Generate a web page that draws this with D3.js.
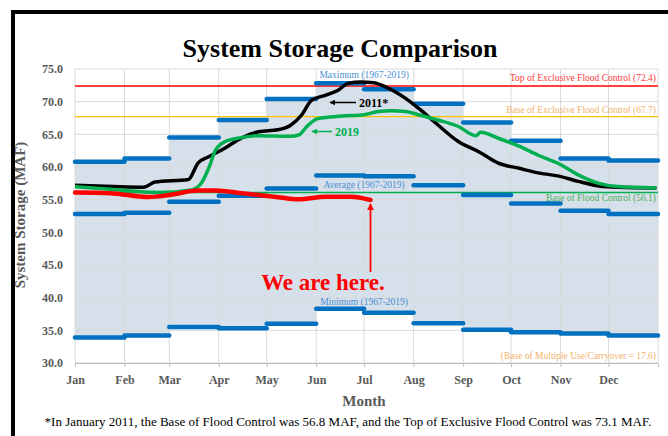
<!DOCTYPE html>
<html>
<head>
<meta charset="utf-8">
<script src="https://cdn.jsdelivr.net/npm/d3@7"></script>
<style>
  body { margin: 0; background: #fff; }
  svg { display: block; font-family: "Liberation Serif", "Times New Roman", serif; }
</style>
</head>
<body>
<svg width="668" height="436"></svg>
<script>
// monthly envelope 1967-2019 (MAF)
const months = ["Jan", "Feb", "Mar", "Apr", "May", "Jun", "Jul", "Aug", "Sep", "Oct", "Nov", "Dec"];
const maxStorage = [60.8, 61.3, 64.5, 67.2, 70.4, 72.8, 71.9, 69.7, 66.8, 64.0, 61.3, 61.0];
const avgStorage = [52.8, 53.0, 54.7, 55.6, 56.7, 58.7, 58.6, 57.2, 55.7, 54.4, 53.3, 52.8];
const minStorage = [33.9, 34.2, 35.5, 35.3, 36.0, 38.3, 37.7, 36.1, 35.1, 34.7, 34.5, 34.2];

// daily traces (month-day, MAF)
const storage2011 = [
  ["01-01", 57.2], ["01-25", 57.0], ["02-13", 56.9], ["02-20", 57.7], ["03-13", 58.1],
  ["03-19", 60.6], ["03-26", 61.6], ["04-05", 62.9], ["04-15", 64.4], ["04-26", 65.4],
  ["05-08", 65.7], ["05-16", 66.4], ["05-23", 68.0], ["05-29", 70.2], ["06-07", 71.0],
  ["06-15", 71.8], ["06-21", 72.8], ["06-29", 73.0], ["07-07", 72.9], ["07-14", 72.3],
  ["07-27", 70.5], ["08-04", 69.0], ["08-15", 66.7], ["08-29", 63.9], ["09-11", 62.3],
  ["09-23", 60.6], ["10-06", 59.8], ["10-18", 59.1], ["10-31", 58.6], ["11-12", 57.8],
  ["11-25", 57.1], ["12-07", 56.9], ["12-31", 56.8]
];
const storage2019 = [
  ["01-01", 57.0], ["01-23", 56.6], ["02-22", 56.1], ["03-15", 56.5], ["03-21", 57.5],
  ["03-26", 60.0], ["03-30", 62.6], ["04-05", 63.9], ["04-15", 64.5], ["04-26", 64.8],
  ["05-16", 64.7], ["05-21", 64.9], ["05-27", 66.4], ["06-02", 67.4], ["06-17", 67.8],
  ["07-01", 68.0], ["07-10", 68.5], ["07-18", 68.6], ["07-27", 68.5], ["08-04", 68.0],
  ["08-16", 67.2], ["08-29", 66.2], ["09-09", 64.8], ["09-12", 65.3], ["09-23", 64.4],
  ["10-06", 63.2], ["10-18", 61.8], ["10-31", 60.5], ["11-12", 58.8], ["11-25", 57.5],
  ["12-07", 57.0], ["12-31", 56.8]
];
const storage2020 = [
  ["01-01", 56.1], ["01-23", 56.0], ["02-16", 55.4], ["03-01", 55.7], ["03-19", 56.4],
  ["03-30", 56.4], ["04-15", 56.0], ["05-06", 55.45], ["05-21", 55.05], ["06-07", 55.45],
  ["06-23", 55.45], ["07-05", 54.95]
];

const topExclusive = 72.4;
const baseExclusive = 67.7;
const baseFlood = 56.1;

const yTicks = [30, 35, 40, 45, 50, 55, 60, 65, 70, 75];

const svg = d3.select("svg");
const parseDay = d => new Date(2019, +d.slice(0, 2) - 1, +d.slice(3, 5));
const monthStarts = months.map((m, i) => new Date(2019, i, 1));
const yearEnd = new Date(2020, 0, 1);

const x = d3.scaleTime()
    .domain([new Date(2019, 0, 1), yearEnd])
    .range([75, 658]);

const y = d3.scaleLinear()
    .domain([30, 75])
    .range([363, 69]);

// black frame
svg.append("path")
   .attr("d", "M13,436V12H668")
   .attr("fill", "none")
   .attr("stroke", "#000")
   .attr("stroke-width", 4);

// title
svg.append("text")
   .attr("x", 340).attr("y", 57)
   .attr("text-anchor", "middle")
   .attr("font-size", 26).attr("font-weight", "bold")
   .text("System Storage Comparison");

// shaded range between min and max
const steps = monthStarts.map((d, i) => ({ date: d, lo: minStorage[i], hi: maxStorage[i] }));
steps.push({ date: yearEnd, lo: minStorage[11], hi: maxStorage[11] });

svg.append("path")
   .datum(steps)
   .attr("fill", "#d6e0ea")
   .attr("d", d3.area()
      .curve(d3.curveStepAfter)
      .x(d => x(d.date))
      .y0(d => y(d.lo))
      .y1(d => y(d.hi)));

// grid
svg.append("g")
   .selectAll("line")
   .data(yTicks)
   .enter()
   .append("line")
   .attr("x1", 75).attr("x2", 658)
   .attr("y1", d => y(d)).attr("y2", d => y(d))
   .attr("stroke", "#d9d9d9").attr("stroke-width", 1);

svg.append("g")
   .selectAll("line")
   .data(monthStarts.concat([yearEnd]))
   .enter()
   .append("line")
   .attr("x1", d => x(d)).attr("x2", d => x(d))
   .attr("y1", y(75)).attr("y2", y(30))
   .attr("stroke", "#d9d9d9").attr("stroke-width", 1);

// reference levels
const refs = [
  { v: topExclusive, color: "#ff0000", text: "Top of Exclusive Flood Control (" + topExclusive.toFixed(1) + ")", tc: "#ff3b3b", dy: -4.5 },
  { v: baseExclusive, color: "#ffc000", text: "Base of Exclusive Flood Control (" + baseExclusive.toFixed(1) + ")", tc: "#f4b26a", dy: -3.5 },
  { v: baseFlood, color: "#00b050", text: "Base of Flood Control (" + baseFlood.toFixed(1) + ")", tc: "#4caf62", dy: 9 }
];
svg.append("g")
   .selectAll("line")
   .data(refs)
   .enter()
   .append("line")
   .attr("x1", 75).attr("x2", 658)
   .attr("y1", d => y(d.v)).attr("y2", d => y(d.v))
   .attr("stroke", d => d.color).attr("stroke-width", 1.3);

svg.append("g")
   .selectAll("text")
   .data(refs)
   .enter()
   .append("text")
   .attr("x", 656)
   .attr("y", d => y(d.v) + d.dy)
   .attr("text-anchor", "end")
   .attr("font-size", 9.5)
   .attr("fill", d => d.tc)
   .text(d => d.text);

svg.append("text")
   .attr("x", 656).attr("y", 359)
   .attr("text-anchor", "end")
   .attr("font-size", 9.5)
   .attr("fill", "#f4b26a")
   .text("(Base of Multiple Use/Carryover = 17.6)");

// monthly bars
const bars = svg.append("g");
[maxStorage, avgStorage, minStorage].forEach(series => {
  bars.selectAll(null)
      .data(series)
      .enter()
      .append("line")
      .attr("x1", (d, i) => x(monthStarts[i]))
      .attr("x2", (d, i) => x(i < 11 ? monthStarts[i + 1] : yearEnd))
      .attr("y1", d => y(d)).attr("y2", d => y(d))
      .attr("stroke", "#0070c0").attr("stroke-width", 4.5)
      .attr("stroke-linecap", "round");
});

const smallLabels = [
  { text: "Maximum (1967-2019)", yy: y(maxStorage[5]) - 5 },
  { text: "Average (1967-2019)", yy: y(avgStorage[6]) + 12 },
  { text: "Minimum (1967-2019)", yy: y(minStorage[5]) - 4 }
];
svg.append("g")
   .selectAll("text")
   .data(smallLabels)
   .enter()
   .append("text")
   .attr("x", x(monthStarts[6]))
   .attr("y", d => d.yy)
   .attr("text-anchor", "middle")
   .attr("font-size", 9.5)
   .attr("fill", "#4a8fd6")
   .text(d => d.text);

// traces
const line = d3.line()
    .curve(d3.curveMonotoneX)
    .x(d => x(parseDay(d[0])))
    .y(d => y(d[1]));

svg.append("path").datum(storage2011)
   .attr("fill", "none").attr("stroke", "#000").attr("stroke-width", 3.5)
   .attr("d", line);
svg.append("path").datum(storage2019)
   .attr("fill", "none").attr("stroke", "#00b050").attr("stroke-width", 3.5)
   .attr("d", line);
svg.append("path").datum(storage2020)
   .attr("fill", "none").attr("stroke", "#ff0000").attr("stroke-width", 4.5)
   .attr("stroke-linecap", "round")
   .attr("d", line);

// arrow markers
const defs = svg.append("defs");
[["arrBlack", "#000"], ["arrGreen", "#00b050"], ["arrRed", "#ff0000"]].forEach(([id, c]) => {
  defs.append("marker")
      .attr("id", id)
      .attr("viewBox", "0 0 10 10")
      .attr("refX", 9).attr("refY", 5)
      .attr("markerWidth", 4).attr("markerHeight", 4)
      .attr("orient", "auto")
      .append("path")
      .attr("d", "M0,0L10,5L0,10Z")
      .attr("fill", c);
});

svg.append("line")
   .attr("x1", 356).attr("y1", 102.5).attr("x2", 330).attr("y2", 102.5)
   .attr("stroke", "#000").attr("stroke-width", 1.5)
   .attr("marker-end", "url(#arrBlack)");
svg.append("text")
   .attr("x", 359).attr("y", 106.5)
   .attr("font-size", 12).attr("font-weight", "bold")
   .text("2011*");

svg.append("line")
   .attr("x1", 332).attr("y1", 131.5).attr("x2", 312).attr("y2", 131.5)
   .attr("stroke", "#00b050").attr("stroke-width", 1.5)
   .attr("marker-end", "url(#arrGreen)");
svg.append("text")
   .attr("x", 335).attr("y", 135.5)
   .attr("font-size", 12).attr("font-weight", "bold")
   .attr("fill", "#00b050")
   .text("2019");

const last2020 = storage2020[storage2020.length - 1];
svg.append("line")
   .attr("x1", x(parseDay(last2020[0]))).attr("y1", 272)
   .attr("x2", x(parseDay(last2020[0]))).attr("y2", y(last2020[1]) + 4)
   .attr("stroke", "#ff0000").attr("stroke-width", 1.8)
   .attr("marker-end", "url(#arrRed)");
svg.append("text")
   .attr("x", 323).attr("y", 290)
   .attr("text-anchor", "middle")
   .attr("font-size", 23).attr("font-weight", "bold")
   .attr("fill", "#ff0000")
   .text("We are here.");

// axes
const xAxis = d3.axisBottom(x)
    .tickValues(monthStarts)
    .tickFormat((d, i) => months[i])
    .tickSize(4)
    .tickPadding(8);

const gx = svg.append("g")
   .attr("transform", "translate(0," + y(30) + ")")
   .call(xAxis);
gx.select(".domain").attr("stroke", "#bfbfbf");
gx.selectAll(".tick line").attr("stroke", "#bfbfbf");
gx.selectAll("text")
  .attr("font-family", "Liberation Serif, serif")
  .attr("font-size", 12).attr("font-weight", "bold")
  .attr("fill", "#595959");

const yAxis = d3.axisLeft(y)
    .tickValues(yTicks)
    .tickFormat(d3.format(".1f"))
    .tickSize(0)
    .tickPadding(12);

const gy = svg.append("g")
   .attr("transform", "translate(75,0)")
   .call(yAxis);
gy.select(".domain").remove();
gy.selectAll("text")
  .attr("font-family", "Liberation Serif, serif")
  .attr("font-size", 12).attr("font-weight", "bold")
  .attr("fill", "#595959");

svg.append("text")
   .attr("transform", "translate(25,215) rotate(-90)")
   .attr("text-anchor", "middle")
   .attr("font-size", 15).attr("font-weight", "bold")
   .attr("fill", "#595959")
   .text("System Storage (MAF)");

svg.append("text")
   .attr("x", 364).attr("y", 406)
   .attr("text-anchor", "middle")
   .attr("font-size", 15).attr("font-weight", "bold")
   .attr("fill", "#595959")
   .text("Month");

svg.append("text")
   .attr("x", 348).attr("y", 426)
   .attr("text-anchor", "middle")
   .attr("font-size", 13)
   .text("*In January 2011, the Base of Flood Control was 56.8 MAF, and the Top of Exclusive Flood Control was 73.1 MAF.");
</script>
</body>
</html>
